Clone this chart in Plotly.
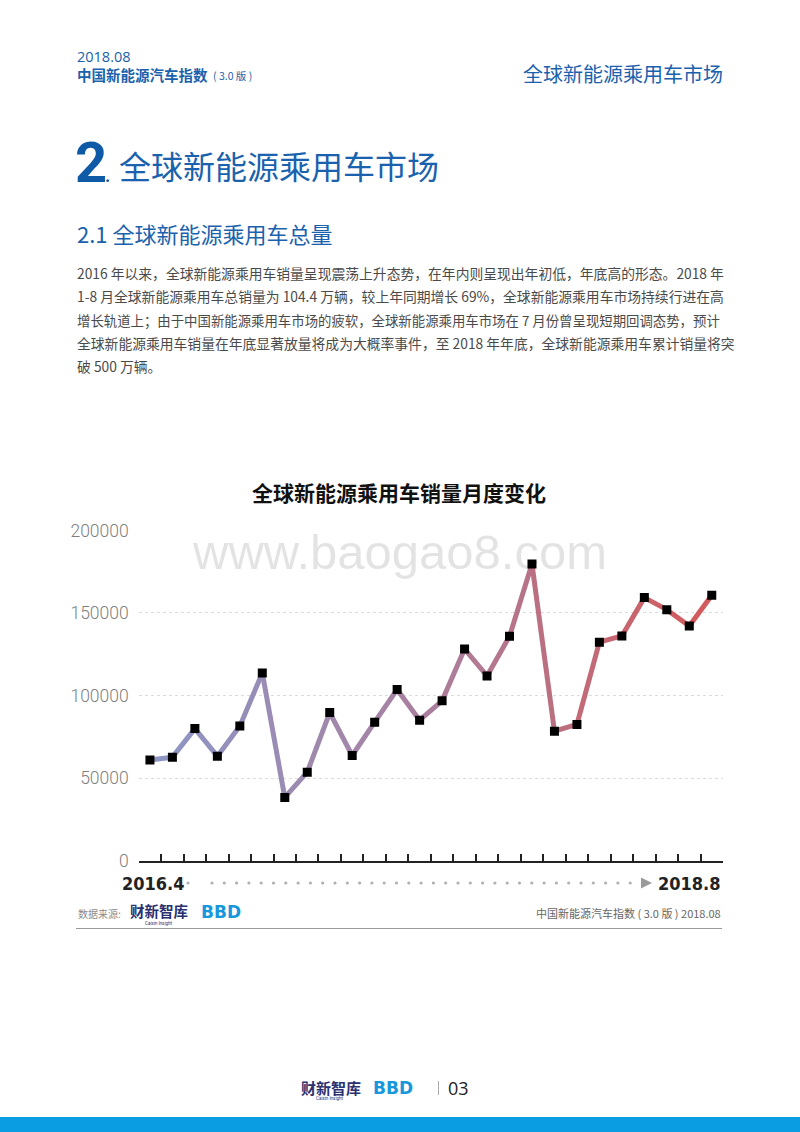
import plotly.graph_objects as go

# ---------------- data ----------------
periods = list(range(1, 27))  # 26 monthly observations, 2016.4 ... 2018.8
sales = [61000, 62700, 80000, 63300, 81500, 113700, 38300, 53600, 89700, 63700,
         83900, 103700, 85100, 96800, 128200, 111900, 135900, 179600, 78400, 82500,
         132300, 136100, 159300, 152000, 142100, 160700]
y_ticks = [0, 50000, 100000, 150000, 200000]
start_label = "2016.4"
end_label = "2018.8"

# page is 800x1132; the browser body keeps its default 8px margin,
# so the figure itself is 784x1116 placed at (8, 8)
OFF = 8
FW, FH = 784, 1116


def px(x):
    return (x - OFF) / FW


def py(y):
    return 1 - (y - OFF) / FH


BLUE = "#1a62ad"
CJK = "Noto Sans CJK SC"
BAND = "#0a9de2"

fig = go.Figure()

# gradient line, drawn segment by segment
stops = [(0.0, (141, 151, 198)), (0.5, (170, 127, 157)), (1.0, (212, 90, 90))]


def grad(t):
    for (t0, c0), (t1, c1) in zip(stops[:-1], stops[1:]):
        if t0 <= t <= t1:
            f = (t - t0) / (t1 - t0)
            return "rgb(%d,%d,%d)" % tuple(round(a + (b - a) * f) for a, b in zip(c0, c1))
    return "rgb(%d,%d,%d)" % stops[-1][1]


n = len(sales)
for i in range(n - 1):
    fig.add_trace(go.Scatter(
        x=periods[i:i + 2], y=sales[i:i + 2], mode="lines",
        line=dict(color=grad((i + 0.5) / (n - 1)), width=5),
        hoverinfo="skip", showlegend=False))

fig.add_trace(go.Scatter(
    x=periods, y=sales, mode="markers",
    marker=dict(symbol="square", size=9, color="#000000", line=dict(width=0)),
    showlegend=False))

fig.update_layout(
    width=FW, height=FH, margin=dict(l=0, r=0, t=0, b=0, pad=0, autoexpand=False),
    paper_bgcolor="rgba(0,0,0,0)", plot_bgcolor="rgba(0,0,0,0)", showlegend=False,
    xaxis=dict(
        domain=[px(138.7), px(723)], range=[0.5, 26.5],
        tickvals=[p - 0.5 for p in periods] + [periods[-1] + 0.5],
        ticks="inside", ticklen=7, tickwidth=1.5, tickcolor="#222",
        showticklabels=False, showgrid=False, zeroline=False,
        showline=True, linecolor="#222", linewidth=1.5, automargin=False,
    ),
    yaxis=dict(
        domain=[py(860.7), py(530.4)], range=[0, 200000],
        tickvals=y_ticks, ticktext=[str(v) for v in y_ticks],
        tickfont=dict(family="Roboto", size=17.5, color="#808080", weight=300),
        ticklabelstandoff=9,
        showgrid=True, gridcolor="#dcdcdc", griddash="3px,3px", gridwidth=1,
        zeroline=False, showline=False, ticks="", automargin=False,
    ),
)

ann = []


def text(x, y, s, size, color="#333", family=CJK, xanchor="left", yanchor="middle", weight=None):
    f = dict(family=family, size=size, color=color)
    if weight is not None:
        f["weight"] = weight
    ann.append(dict(x=px(x), y=py(y), xref="paper", yref="paper", text=s, showarrow=False,
                    xanchor=xanchor, yanchor=yanchor, font=f))


# header
text(75, 56.5, "2018.08", 14.5, BLUE, "Open Sans")
text(75, 75, "<b>中国新能源汽车指数</b>", 14.5, BLUE)
text(211, 75.5, "( 3.0 版 )", 10.5, BLUE)
text(725, 73, "全球新能源乘用车市场", 20, BLUE, xanchor="right")

# section title
text(73, 163, "<b>2</b>", 56, "#0f5aa6", "Roboto")
text(103, 176, "<b>.</b>", 18, "#0f5aa6", "Roboto")
text(117, 165, "全球新能源乘用车市场", 32, BLUE)
text(75, 233, "2.1 全球新能源乘用车总量", 22, BLUE)

para = [
    "2016 年以来，全球新能源乘用车销量呈现震荡上升态势，在年内则呈现出年初低，年底高的形态。2018 年",
    "1-8 月全球新能源乘用车总销量为 104.4 万辆，较上年同期增长 69%，全球新能源乘用车市场持续行进在高",
    "增长轨道上；由于中国新能源乘用车市场的疲软，全球新能源乘用车市场在 7 月份曾呈现短期回调态势，预计",
    "全球新能源乘用车销量在年底显著放量将成为大概率事件，至 2018 年年底，全球新能源乘用车累计销量将突",
    "破 500 万辆。",
]
para_sizes = [13.8, 13.8, 13.4, 13.8, 13.8]
for k, line in enumerate(para):
    text(75, 273 + k * 23.3, line, para_sizes[k], "#4a4a4a")

# chart title + watermark
text(399, 492, "<b>全球新能源乘用车销量月度变化</b>", 21, "#111", xanchor="center")
text(399, 552, "www.baogao8.com", 49, "rgba(0,0,0,0.11)", "Liberation Sans", xanchor="center")

# time labels
NARROW = "DejaVu Sans Condensed"
text(120, 883, "<b>" + start_label + "</b>", 18, "#222", NARROW)
text(723, 883, "<b>" + end_label + "</b>", 18, "#222", NARROW, xanchor="right")

shapes = []
dots_x = [188] + [212 + 12.3 * k for k in range(35)]
for dx in dots_x:
    shapes.append(dict(type="circle", xref="paper", yref="paper",
                       x0=px(dx - 1.6), x1=px(dx + 1.6), y0=py(884.6), y1=py(881.4),
                       fillcolor="#b0b0b0", line=dict(width=0)))
shapes.append(dict(type="path", xref="paper", yref="paper",
                   path="M %f %f L %f %f L %f %f Z" % (px(641), py(877.5), px(652), py(883), px(641), py(888.5)),
                   fillcolor="#9a9a9a", line=dict(width=0)))

# footer of chart
text(76, 913, "数据来源:", 10, "#8a8a8a")
text(128, 911, "<b>财新智库</b>", 14.5, "#2b3170")
text(159, 923, "Caixin Insight", 4.5, "#2b3170", "Roboto", xanchor="center")
text(199, 912.5, "<b>BBD</b>", 17, "#1798dc", "DejaVu Sans")
text(723, 913, "中国新能源汽车指数 ( 3.0 版 ) 2018.08", 11, "#666", xanchor="right")
shapes.append(dict(type="line", xref="paper", yref="paper", x0=px(76), x1=px(722),
                   y0=py(928.5), y1=py(928.5), line=dict(color="#9a9a9a", width=1)))

# page footer
text(299, 1087, "<b>财新智库</b>", 15, "#2b3170")
text(330, 1098, "Caixin Insight", 4.5, "#2b3170", "Roboto", xanchor="center")
text(371, 1088, "<b>BBD</b>", 17, "#1798dc", "DejaVu Sans")
shapes.append(dict(type="line", xref="paper", yref="paper", x0=px(438.5), x1=px(438.5),
                   y0=py(1081), y1=py(1095), line=dict(color="#aaaaaa", width=1)))
text(446, 1088, "03", 18, "#222", "Open Sans")
shapes.append(dict(type="rect", xref="paper", yref="paper", x0=px(0), x1=px(800),
                   y0=0, y1=py(1117), fillcolor=BAND, line=dict(width=0)))

fig.update_layout(annotations=ann, shapes=shapes)

page_bg = ("document.documentElement.style.background="
           "'linear-gradient(to bottom, #ffffff 0px, #ffffff 1117px, %s 1117px, %s 1132px)';"
           "document.documentElement.style.backgroundRepeat='no-repeat';"
           "document.documentElement.style.backgroundSize='100%% 1132px';" % (BAND, BAND))

fig.write_html("out.html", config={"displayModeBar": False}, post_script=page_bg)
